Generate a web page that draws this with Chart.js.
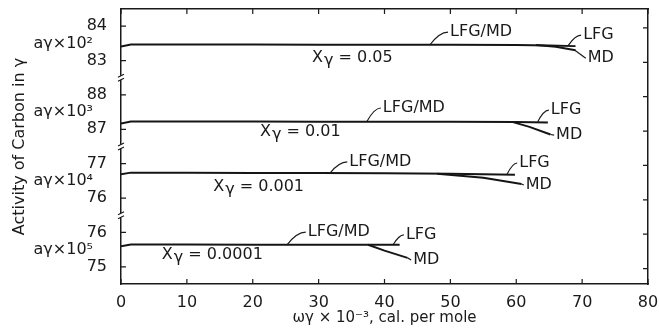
<!DOCTYPE html>
<html>
<head>
<meta charset="utf-8">
<script src="https://cdn.jsdelivr.net/npm/chart.js@4.4.0/dist/chart.umd.min.js"></script>
<style>
  body { margin: 0; background: #fff; }
</style>
</head>
<body>
<canvas id="chart" width="659" height="330"></canvas>
<script>
// panels from bottom to top: each one is a stretch of the activity axis
const panelLow = [75, 76, 87, 83];                  // lower tick label of each panel
const leftTickLabels = ["75", "76", "76", "77", "87", "88", "83", "84"];
const panelPowers = ["10⁵", "10⁴", "10³", "10²"];
const panelXgamma = ["0.0001", "0.001", "0.01", "0.05"];
const xTicks = [0, 10, 20, 30, 40, 50, 60, 70, 80];

// Xγ = 0.0001
const lfg0001X = [0, 1.5, 10, 20, 30, 37.5, 42.3];
const lfg0001Y = [75.60, 75.65, 75.65, 75.64, 75.64, 75.64, 75.64];
const md0001X = [37.5, 40, 43.5];
const md0001Y = [75.64, 75.47, 75.26];

// Xγ = 0.001
const lfg001X = [0, 1.5, 10, 20, 30, 40, 50, 59.8];
const lfg001Y = [76.69, 76.74, 76.74, 76.73, 76.73, 76.72, 76.71, 76.68];
const md001X = [48, 55, 60.8];
const md001Y = [76.71, 76.59, 76.41];

// Xγ = 0.01
const lfg01X = [0, 1.5, 10, 20, 30, 40, 50, 60, 64.8];
const lfg01Y = [87.17, 87.23, 87.23, 87.23, 87.22, 87.22, 87.22, 87.21, 87.20];
const md01X = [59.5, 62, 65.2];
const md01Y = [87.21, 87.07, 86.85];

// Xγ = 0.05
const lfg05X = [0, 1.5, 10, 20, 30, 40, 50, 60, 65, 69];
const lfg05Y = [83.41, 83.47, 83.47, 83.47, 83.46, 83.46, 83.46, 83.45, 83.44, 83.42];
const md05X = [63, 66, 69];
const md05Y = [83.45, 83.40, 83.30];

// curve labels: text, panel, x, activity value, leader start [x, value]
const notes = [
  ["LFG/MD", 0, 28.2, 76.01, [25.2, 75.64]],
  ["LFG", 0, 43.1, 75.93, [41.3, 75.64]],
  ["MD", 0, 44.2, 75.20, [43.5, 75.26]],
  ["LFG/MD", 1, 34.5, 77.05, [31.7, 76.72]],
  ["LFG", 1, 60.3, 77.02, [58.6, 76.69]],
  ["MD", 1, 61.3, 76.38, [60.8, 76.41]],
  ["LFG/MD", 2, 39.6, 87.62, [37.3, 87.22]],
  ["LFG", 2, 65.1, 87.56, [63.2, 87.20]],
  ["MD", 2, 65.9, 86.83, [65.2, 86.85]],
  ["LFG/MD", 3, 49.8, 83.83, [46.9, 83.46]],
  ["LFG", 3, 70.0, 83.74, [67.9, 83.44]],
  ["MD", 3, 70.7, 83.07, [68.9, 83.30]]
];
const xgammaNotes = [[0, 6.2, 75.34], [1, 14.0, 76.32], [2, 21.1, 86.92], [3, 29.0, 83.07]];

// panel value -> common axis position
function toAxis(panel, v) {
  return 2 * panel + 0.5 + (v - panelLow[panel]);
}

function makeSeries(panel, xs, ys) {
  return {
    data: xs.map((x, i) => ({x: x, y: toAxis(panel, ys[i])})),
    showLine: true,
    borderColor: "#151515",
    borderWidth: 2,
    pointRadius: 0,
    tension: 0
  };
}

const datasets = [
  makeSeries(0, lfg0001X, lfg0001Y), makeSeries(0, md0001X, md0001Y),
  makeSeries(1, lfg001X, lfg001Y), makeSeries(1, md001X, md001Y),
  makeSeries(2, lfg01X, lfg01Y), makeSeries(2, md01X, md01Y),
  makeSeries(3, lfg05X, lfg05Y), makeSeries(3, md05X, md05Y)
];

const FONT = '"DejaVu Sans", sans-serif';
const INK = "#1a1a1a";

const notesPlugin = {
  id: "notes",
  afterDraw(chart) {
    const ctx = chart.ctx;
    const s = chart.scales;
    const x = s.x, y = s.y;
    const area = chart.chartArea;
    ctx.save();
    ctx.fillStyle = INK;
    ctx.strokeStyle = INK;
    ctx.lineWidth = 1.2;

    // inward tick marks on all four sides
    ctx.beginPath();
    s.x.ticks.forEach(t => {
      const px = s.x.getPixelForValue(t.value);
      ctx.moveTo(px, area.bottom); ctx.lineTo(px, area.bottom - 5);
    });
    s.x2.ticks.forEach(t => {
      const px = s.x2.getPixelForValue(t.value);
      ctx.moveTo(px, area.top); ctx.lineTo(px, area.top + 5);
    });
    s.y.ticks.forEach(t => {
      const py = s.y.getPixelForValue(t.value);
      ctx.moveTo(area.left, py); ctx.lineTo(area.left + 5, py);
    });
    s.y2.ticks.forEach(t => {
      const py = s.y2.getPixelForValue(t.value);
      ctx.moveTo(area.right, py); ctx.lineTo(area.right - 5, py);
    });
    ctx.stroke();

    ctx.textBaseline = "middle";
    ctx.font = "16px " + FONT;

    // curve labels with their little leaders
    notes.forEach(n => {
      const tx = x.getPixelForValue(n[2]);
      const ty = y.getPixelForValue(toAxis(n[1], n[3]));
      const lx = x.getPixelForValue(n[4][0]);
      const ly = y.getPixelForValue(toAxis(n[1], n[4][1]));
      ctx.beginPath();
      ctx.moveTo(lx, ly);
      if (ty < ly - 4) {
        ctx.quadraticCurveTo(lx + (tx - lx) * 0.5, ty, tx - 1, ty);
      } else {
        ctx.lineTo(tx - 1, ty);
      }
      ctx.stroke();
      ctx.textAlign = "left";
      ctx.fillText(n[0], tx + 1, ty);
    });

    xgammaNotes.forEach(n => {
      const tx = x.getPixelForValue(n[1]);
      const ty = y.getPixelForValue(toAxis(n[0], n[2]));
      ctx.textAlign = "left";
      ctx.fillText("X", tx, ty);
      const w = ctx.measureText("X").width;
      ctx.fillText("γ", tx + w + 1, ty + 3);
      const w2 = ctx.measureText("γ").width;
      ctx.fillText(" = " + panelXgamma[n[0]], tx + w + w2 + 1, ty);
    });

    // a_γ x 10^n beside each panel
    ctx.textAlign = "right";
    panelPowers.forEach((p, i) => {
      const py = y.getPixelForValue(2 * i + 1);
      ctx.fillText("aγ×" + p, area.left - 28, py);
    });

    // axis breaks between panels
    [2, 4, 6].forEach(v => {
      const py = y.getPixelForValue(v);
      ctx.fillStyle = "#fff";
      ctx.fillRect(area.left - 3, py - 2, 6, 4);
      ctx.beginPath();
      ctx.moveTo(area.left - 3, py - 0.5); ctx.lineTo(area.left + 3, py - 3.5);
      ctx.moveTo(area.left - 3, py + 3.5); ctx.lineTo(area.left + 3, py + 0.5);
      ctx.stroke();
    });
    ctx.restore();
  }
};

const axisBorder = {display: true, color: INK, width: 1.5};
const noGrid = {display: false};

function fixHoriz(h) {
  return sc => { sc.height = h; sc.paddingLeft = 0; sc.paddingRight = 0; };
}
function fixVert(w) {
  return sc => { sc.width = w; sc.paddingTop = 0; sc.paddingBottom = 0; };
}

new Chart(document.getElementById("chart"), {
  type: "scatter",
  data: {datasets: datasets},
  options: {
    responsive: false,
    animation: false,
    layout: {padding: {top: 9, right: 11, left: 0, bottom: 0}},
    plugins: {legend: {display: false}, tooltip: {enabled: false}},
    scales: {
      x: {
        type: "linear", position: "bottom", min: 0, max: 80,
        afterBuildTicks: sc => { sc.ticks = xTicks.map(v => ({value: v})); },
        afterFit: fixHoriz(46),
        border: axisBorder, grid: noGrid,
        ticks: {color: INK, font: {family: FONT, size: 16}, padding: 1, autoSkip: false, maxRotation: 0},
        title: {display: true, text: "ωγ × 10⁻³, cal. per mole", color: INK,
                font: {family: FONT, size: 15}, padding: {top: 0, bottom: 3}}
      },
      x2: {
        type: "linear", position: "top", min: 0, max: 80,
        afterBuildTicks: sc => { sc.ticks = xTicks.map(v => ({value: v})); },
        afterFit: fixHoriz(0),
        border: axisBorder, grid: noGrid,
        ticks: {display: false}
      },
      y: {
        type: "linear", position: "left", min: 0, max: 8,
        afterBuildTicks: sc => { sc.ticks = leftTickLabels.map((t, i) => ({value: i + 0.5})); },
        afterFit: fixVert(121),
        border: axisBorder, grid: noGrid,
        ticks: {color: INK, font: {family: FONT, size: 16}, padding: 6, autoSkip: false,
                callback: (v, i) => leftTickLabels[i]},
        title: {display: true, text: "Activity of Carbon in γ", color: INK,
                font: {family: FONT, size: 16}, padding: {top: 10, bottom: 0}}
      },
      y2: {
        type: "linear", position: "right", min: 0, max: 8,
        afterBuildTicks: sc => { sc.ticks = leftTickLabels.map((t, i) => ({value: i + 0.45})); },
        afterFit: fixVert(0),
        border: axisBorder, grid: noGrid,
        ticks: {display: false}
      }
    }
  },
  plugins: [notesPlugin]
});
</script>
</body>
</html>
